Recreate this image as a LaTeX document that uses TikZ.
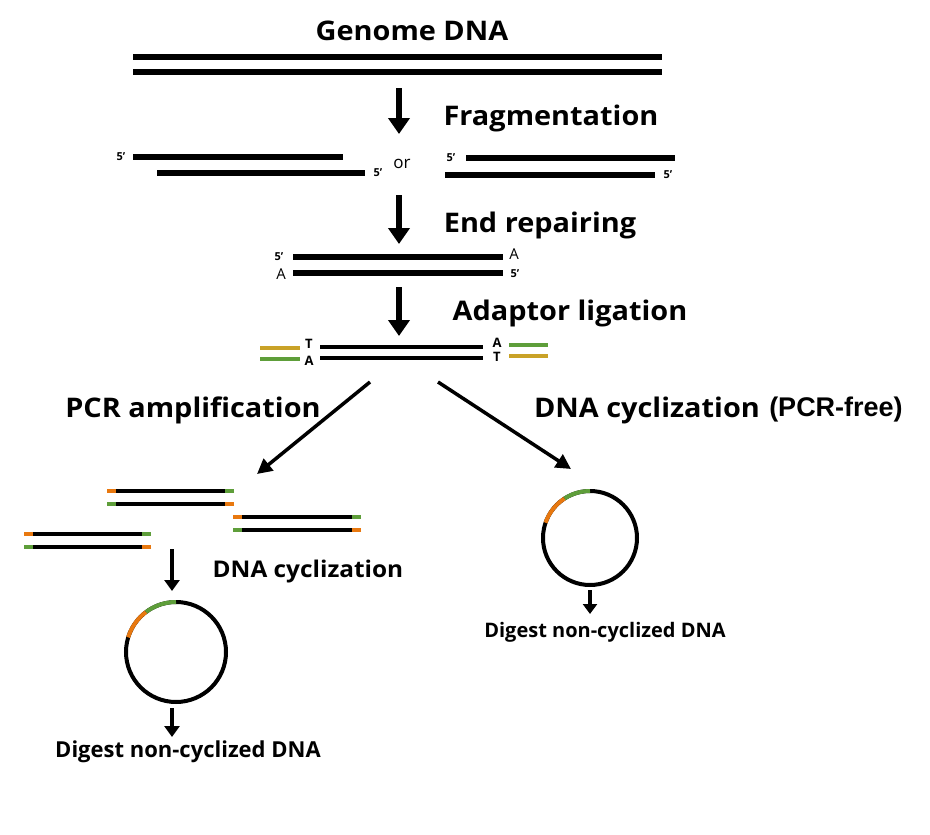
\documentclass[tikz,border=0pt]{standalone}
\usepackage{fontspec}
\setmainfont{Open Sans}
\newfontfamily\arialfont{Liberation Sans}
\usetikzlibrary{arrows.meta}
\definecolor{adyel}{HTML}{C9A227}
\definecolor{adgrn}{HTML}{5E9E3A}
\definecolor{adorg}{HTML}{E8780F}
\tikzset{
  x=1pt,y=-1pt,
  strand/.style={line width=5.5pt,black},
  thinstrand/.style={line width=4pt,black},
  bigarrow/.style={line width=6pt,-{Triangle[width=21pt,length=16pt]}},
  smallarrow/.style={line width=4.5pt,-{Triangle[width=15pt,length=11pt]}},
  diagarrow/.style={line width=3.5pt,-{Triangle[width=15pt,length=15pt]}},
  heading/.style={font=\bfseries\fontsize{27}{30}\selectfont,inner sep=0pt},
  digest/.style={font=\bfseries\fontsize{20}{22}\selectfont,inner sep=0pt},
  prime/.style={font=\bfseries\fontsize{11}{12}\selectfont,inner sep=0pt},
  base/.style={font=\fontsize{15}{16}\selectfont,inner sep=0pt},
  adbase/.style={font=\bfseries\fontsize{13}{14}\selectfont,inner sep=0pt},
}
\newcommand{\fp}{5\char"0027}
\newcommand{\wide}[1]{\scalebox{1.07}[1]{#1}}
\newcommand{\pcrpair}[3]{% x1, x2, y(top)
  \draw[thinstrand] (#1,#3) -- (#2,#3);
  \draw[line width=4pt,adorg] (#1,#3) -- ++(9,0);
  \draw[line width=4pt,adgrn] (#2,#3) -- ++(-9,0);
  \draw[thinstrand] (#1,#3+13) -- (#2,#3+13);
  \draw[line width=4pt,adgrn] (#1,#3+13) -- ++(9,0);
  \draw[line width=4pt,adorg] (#2,#3+13) -- ++(-9,0);
}
\begin{document}
\begin{tikzpicture}
\useasboundingbox (0,0) rectangle (930,835);
\fill[white] (0,0) rectangle (930,835);

% Genome DNA
\node[heading] (genome) at (412,31) {\wide{Genome DNA}};
\draw[strand] (133,57) -- (662,57);
\draw[strand] (133,72) -- (662,72);

% arrow 1
\coordinate (a1s) at (399,88); \coordinate (a1e) at (399,134);
\draw[bigarrow] (a1s) -- (a1e);
\node[heading] (frag) at (551,118) {\wide{Fragmentation}};

% fragments
\draw[strand] (133,157) -- (343,157);
\draw[strand] (157,173) -- (365,173);
\node[prime] (p1) at (121,157) {\fp};
\node[prime] (p2) at (378,173) {\fp};
\node[font=\fontsize{17}{19}\selectfont,inner sep=0pt] (or) at (402,164) {or};
\draw[strand] (466,158) -- (675,158);
\draw[strand] (445,175) -- (655,175);
\node[prime] (p3) at (451,158) {\fp};
\node[prime] (p4) at (668,175) {\fp};

% arrow 2
\coordinate (a2s) at (399,195); \coordinate (a2e) at (399,244);
\draw[bigarrow] (a2s) -- (a2e);
\node[heading] (endrep) at (540,225) {\wide{End repairing}};

% end repaired
\draw[strand] (293,257) -- (503,257);
\draw[strand] (293,273) -- (503,273);
\node[prime] (p5) at (279,257) {\fp};
\node[base] (b1) at (514,254) {A};
\node[base] (b2) at (281,274) {A};
\node[prime] (p6) at (515,274) {\fp};

% arrow 3
\coordinate (a3s) at (399,287); \coordinate (a3e) at (399,336);
\draw[bigarrow] (a3s) -- (a3e);
\node[heading] (adlig) at (570,313) {\wide{Adaptor ligation}};

% adaptor ligation
\draw[line width=4.5pt] (320,347) -- (483,347);
\draw[line width=4.5pt] (320,358) -- (483,358);
\node[adbase] (t1) at (309,344) {T};
\node[adbase] (t2) at (309,361) {A};
\node[adbase] (t3) at (497,343) {A};
\node[adbase] (t4) at (497,357) {T};
\draw[line width=4pt,adyel] (260,348) -- (300,348);
\draw[line width=4pt,adgrn] (260,359) -- (300,359);
\draw[line width=4pt,adgrn] (509,345) -- (548,345);
\draw[line width=4pt,adyel] (509,356) -- (548,356);

% diagonal arrows
\coordinate (dls) at (370,382); \coordinate (dle) at (257,474);
\coordinate (drs) at (438,382); \coordinate (dre) at (571,469);
\draw[diagarrow] (dls) -- (dle);
\draw[diagarrow] (drs) -- (dre);
\node[heading] (pcr) at (193,410) {\wide{PCR amplification}};
\node[heading] (cyc1) at (647,410) {\wide{DNA cyclization}};
\node[font=\arialfont\bfseries\fontsize{27}{30}\selectfont,inner sep=0pt] (free) at (836,410) {(PCR-free)};

% PCR products
\pcrpair{107}{234}{491}
\pcrpair{233}{361}{517}
\pcrpair{24}{151}{534}

% arrow left
\coordinate (l1s) at (172,549); \coordinate (l1e) at (172,591);
\draw[smallarrow] (l1s) -- (l1e);
\node[heading,font=\bfseries\fontsize{23}{26}\selectfont] (cyc2) at (308,572) {\scalebox{1.06}[1]{DNA cyclization}};

% left circle
\coordinate (c1) at (176,652);
\draw[line width=4pt] (c1) circle[radius=50];
\draw[line width=4pt,adgrn] ([shift={(-90:50)}]c1) arc[start angle=-90,end angle=-127,radius=50];
\draw[line width=4pt,adorg] ([shift={(-127:50)}]c1) arc[start angle=-127,end angle=-163,radius=50];
\coordinate (l2s) at (172,708); \coordinate (l2e) at (172,737);
\draw[smallarrow] (l2s) -- (l2e);
\node[digest,font=\bfseries\fontsize{22}{24}\selectfont] (dig1) at (188,752) {Digest non-cyclized DNA};

% right circle
\coordinate (c2) at (590,538);
\draw[line width=4pt] (c2) circle[radius=47];
\draw[line width=4pt,adgrn] ([shift={(-90:47)}]c2) arc[start angle=-90,end angle=-123,radius=47];
\draw[line width=4pt,adorg] ([shift={(-123:47)}]c2) arc[start angle=-123,end angle=-161,radius=47];
\coordinate (r1s) at (590,590); \coordinate (r1e) at (590,614);
\draw[line width=4pt,-{Triangle[width=14pt,length=10pt]}] (r1s) -- (r1e);
\node[digest] (dig2) at (605,632) {Digest non-cyclized DNA};
\end{tikzpicture}
\end{document}
